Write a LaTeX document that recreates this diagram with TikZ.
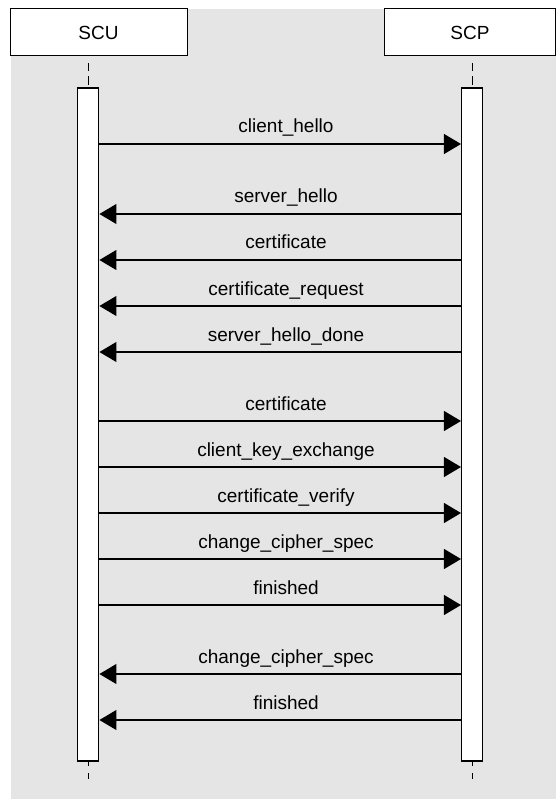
\documentclass[tikz,border=0pt]{standalone}
\usepackage{fontspec}
\setmainfont{Liberation Sans}
\usetikzlibrary{arrows.meta}
\definecolor{bggray}{HTML}{E5E5E5}
\begin{document}
\begin{tikzpicture}[x=1pt,y=-1pt,
  font=\fontsize{19}{22}\selectfont,
  headbox/.style={draw=black,fill=white,line width=1pt,minimum width=177pt,minimum height=47pt,inner sep=0pt},
  actbox/.style={draw=black,fill=white,line width=1.5pt,minimum width=21pt,minimum height=673pt,inner sep=0pt},
  lifeline/.style={line width=1.3pt,dash pattern=on 8.5pt off 5pt},
  msg/.style={line width=1.2pt,-{Triangle[length=17pt,width=20pt]}},
  lbl/.style={anchor=base,inner sep=0pt}
]
\useasboundingbox (0,0) rectangle (556,799);
\fill[bggray] (11,9) rectangle (556,799);
% headers
\node[headbox] (scu) at (98.5,32.5) {SCU};
\node[headbox,minimum width=171.5pt] (scp) at (470,32.5) {SCP};
% activation bars
\node[actbox] (scub) at (88.2,424.5) {};
\node[actbox] (scpb) at (472.2,424.5) {};
% lifelines
\coordinate (scutop) at (88.5,63);
\coordinate (scptop) at (472.5,63);
\coordinate (scubot) at (88.5,779);
\coordinate (scpbot) at (472.5,779);
\draw[lifeline] (scutop) -- (scutop |- scub.north);
\draw[lifeline] (scptop) -- (scptop |- scpb.north);
\draw[line width=1.3pt,dash pattern=on 4pt off 7pt on 7pt off 0pt] (scutop |- scub.south) -- (scubot);
\draw[line width=1.3pt,dash pattern=on 4pt off 7pt on 7pt off 0pt] (scptop |- scpb.south) -- (scpbot);
% messages SCU -> SCP
\foreach \y/\t in {144/client\_hello, 421/certificate, 467/client\_key\_exchange, 513/certificate\_verify, 559/change\_cipher\_spec, 605/finished}{
  \draw[msg] (scub.east |- 0,\y) -- (scpb.west |- 0,\y);
  \node[lbl] at (286,\y-11) {\t};
}
% messages SCP -> SCU
\foreach \y/\t in {214/server\_hello, 260/certificate, 306/certificate\_request, 352/server\_hello\_done, 674/change\_cipher\_spec, 720/finished}{
  \draw[msg] (scpb.west |- 0,\y) -- (scub.east |- 0,\y);
  \node[lbl] at (286,\y-11) {\t};
}
\end{tikzpicture}
\end{document}
